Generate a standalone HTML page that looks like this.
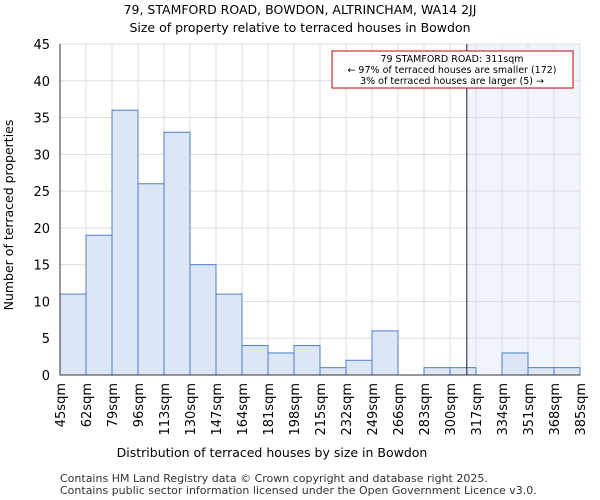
<!DOCTYPE html>
<html><head><meta charset="utf-8"><style>body{margin:0;background:#fff}svg{display:block;font-family:"DejaVu Sans","Liberation Sans",sans-serif}</style></head>
<body>
<svg id="c" width="600" height="500">
<text x="300" y="14" font-size="12.5" text-anchor="middle">79, STAMFORD ROAD, BOWDON, ALTRINCHAM, WA14 2JJ</text>
<text x="300" y="32" font-size="12.5" text-anchor="middle">Size of property relative to terraced houses in Bowdon</text>
<g id="plot"></g>
<text x="272" y="457" font-size="12.5" text-anchor="middle">Distribution of terraced houses by size in Bowdon</text>
<text x="13" y="215" font-size="12.5" text-anchor="middle" transform="rotate(-90 13 215)">Number of terraced properties</text>
<text x="60" y="482" font-size="11" fill="#333">Contains HM Land Registry data © Crown copyright and database right 2025.</text>
<text x="60" y="494" font-size="11" fill="#333">Contains public sector information licensed under the Open Government Licence v3.0.</text>
</svg>
<script>
const binStarts=[45,62,79,96,113,130,147,164,181,198,215,232,249,266,283,300,317,334,351,368];
const counts=[11,19,36,26,33,15,11,4,3,4,1,2,6,0,1,1,0,3,1,1];
const xTickLabels=["45sqm","62sqm","79sqm","96sqm","113sqm","130sqm","147sqm","164sqm","181sqm","198sqm","215sqm","232sqm","249sqm","266sqm","283sqm","300sqm","317sqm","334sqm","351sqm","368sqm","385sqm"];
const yTicks=[0,5,10,15,20,25,30,35,40,45];
const propertySize=311;
const ns="http://www.w3.org/2000/svg";
const L=60,R=580,T=44,B=375,xMin=45,xMax=385,yMax=45;
const xs=v=>L+(v-xMin)/(xMax-xMin)*(R-L);
const ys=v=>B-v/yMax*(B-T);
const g=document.getElementById('plot');
function mk(t,a){const e=document.createElementNS(ns,t);for(const k in a)e.setAttribute(k,a[k]);g.appendChild(e);return e;}
let e=mk('rect',{x:xs(propertySize),y:T,width:R-xs(propertySize),height:B-T,fill:'#f0f4fc'});


yTicks.forEach(v=>{const l=mk('line',{x1:L,x2:R,y1:ys(v),y2:ys(v),stroke:'#ddd'});


const t=mk('text',{x:L-10,y:ys(v)+5,'font-size':13,'text-anchor':'end'});t.textContent=v;

});
xTickLabels.forEach((s,i)=>{const x=xs(xMin+i*17);const l=mk('line',{x1:x,x2:x,y1:T,y2:B,stroke:'#ddd'});


const t=mk('text',{x:x+5,y:B+8,'font-size':13,'text-anchor':'end',transform:`rotate(-90 ${x+5} ${B+8})`});t.textContent=s;

});
counts.forEach((c,i)=>{if(!c)return;const x0=xs(binStarts[i]),x1=xs(binStarts[i]+17);
const r=mk('rect',{x:x0,y:ys(c),width:x1-x0,height:B-ys(c),fill:'#dce6f5',stroke:'#4a7fcf','stroke-width':1});

});
e=mk('line',{x1:L,x2:L,y1:T,y2:B,stroke:'#333'});


e=mk('line',{x1:L,x2:R,y1:B,y2:B,stroke:'#333'});


e=mk('line',{x1:xs(propertySize),x2:xs(propertySize),y1:T,y2:B,stroke:'#1a1a40','stroke-width':1});


e=mk('rect',{x:332,y:51,width:241,height:37,fill:'#fff',stroke:'#c00','stroke-width':1});


["79 STAMFORD ROAD: 311sqm","← 97% of terraced houses are smaller (172)","3% of terraced houses are larger (5) →"].forEach((s,i)=>{const t=mk('text',{x:452,y:62+i*11,'font-size':9.5,'text-anchor':'middle'});t.textContent=s;

});
</script>
</body></html>
